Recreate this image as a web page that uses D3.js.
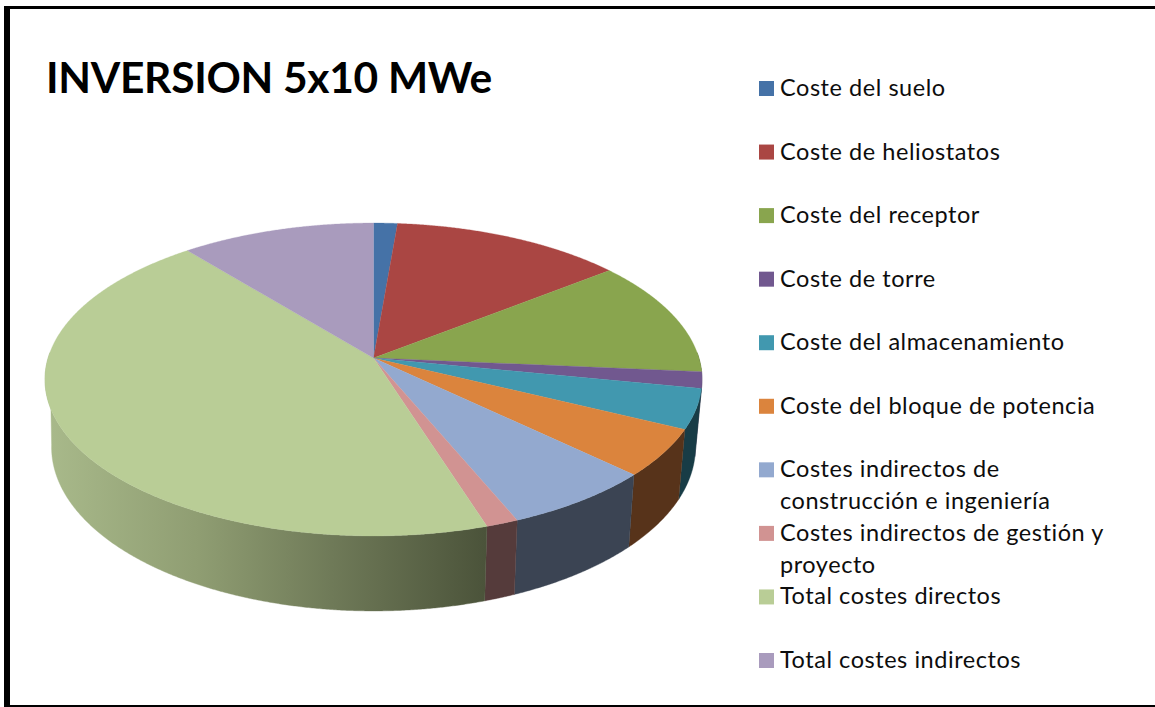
<!DOCTYPE html>
<html><head><meta charset="utf-8">
<script src="https://cdnjs.cloudflare.com/ajax/libs/d3/7.8.5/d3.min.js"></script>
<style>html,body{margin:0;padding:0;background:#fff;overflow:hidden}svg{display:block}text{font-family:Lato,sans-serif;fill:#0d0d0d}</style>
</head><body><svg id="c" width="1155" height="707"></svg>
<script>
const categories = ["Coste del suelo","Coste de heliostatos","Coste del receptor","Coste de torre","Coste del almacenamiento","Coste del bloque de potencia","Costes indirectos de|construcción e ingeniería","Costes indirectos de gestión y|proyecto","Total costes directos","Total costes indirectos"];
const values = [1.34,13.06,12.0,1.7,4.1,4.9,6.6,1.4,44.0,10.9];
const colors = ["#4572a7","#aa4643","#89a54e","#71588f","#4198af","#db843d","#93a9cf","#d19392","#b9cd96","#a99bbd"];
const wallColors = ["#263f5c","#5e2624","#4b5a2b","#3e304f","#183c46","#57331a","#3b4453","#553b3b","url(#gw)","#5d5568"];
const title = "INVERSION 5x10 MWe";

const svg = d3.select("#c");
const W = 1155, H = 707;
svg.append("rect").attr("width",W).attr("height",H).attr("fill","#fff");
// frame
svg.append("rect").attr("x",4).attr("y",6).attr("width",6).attr("height",701).attr("fill","#000");
svg.append("rect").attr("x",4).attr("y",6).attr("width",1151).attr("height",3).attr("fill","#000");
svg.append("rect").attr("x",4).attr("y",705).attr("width",1151).attr("height",2).attr("fill","#000");

// perspective disc projection
const cx=373.5, cy=358, k=-0.1374, A=325.4, B=153.5;
const topRim = t => { const u=Math.sin(t), v=-Math.cos(t), d=1+k*v; return [cx+A*u/d, cy+B*v/d]; };
const botRim = t => { const p=topRim(t); return [cx+0.98*(p[0]-cx), 611+1.047*(p[1]-536)]; };
const pathLine = d3.line();
const rad = d => d*Math.PI/180;
const sweep = (a,b) => b>a ? d3.range(a,b,0.005).concat([b]) : [];

const defs = svg.append("defs");
const gw = defs.append("linearGradient").attr("id","gw").attr("gradientUnits","userSpaceOnUse").attr("x1",45).attr("x2",486).attr("y1",0).attr("y2",0);
[[0,"#a9ba8b"],[0.35,"#8f9d72"],[0.65,"#6f7a58"],[1,"#4b533a"]].forEach(s=>gw.append("stop").attr("offset",s[0]).attr("stop-color",s[1]));

const arcs = d3.pie().sort(null).value(d=>d)(values);
// the upper rim is visible further round than the lower one: the silhouette edge joins the two
const topLo = rad(88), topHi = rad(272), botLo = rad(97), botHi = rad(263);
// side walls
svg.append("g").selectAll("path").data(arcs).join("path")
 .attr("d",d=>{
   const t=sweep(Math.max(d.startAngle,topLo),Math.min(d.endAngle,topHi));
   const b=sweep(Math.max(d.startAngle,botLo),Math.min(d.endAngle,botHi));
   if(!t.length) return null;
   return pathLine(t.map(topRim).concat(b.reverse().map(botRim)))+"Z";
 })
 .attr("fill",(d,i)=>wallColors[i]).attr("stroke",(d,i)=>wallColors[i]).attr("stroke-width",0.4);
// top face
svg.append("g").selectAll("path").data(arcs).join("path")
 .attr("d",d=>pathLine([[cx,cy]].concat(sweep(d.startAngle,d.endAngle).map(topRim)))+"Z")
 .attr("fill",(d,i)=>colors[i]).attr("stroke",(d,i)=>colors[i]).attr("stroke-width",0.3);

// title
svg.append("text").attr("x",46).attr("y",92.5).attr("font-size",42.5).attr("font-weight",700).attr("letter-spacing",-0.3).style("fill","#000").text(title);

// legend
const rowY = d3.scalePoint().domain(d3.range(categories.length)).range([88.5,660.5]);
const lg = svg.append("g").selectAll("g").data(categories).join("g").attr("transform",(d,i)=>`translate(0,${rowY(i)})`);
lg.append("rect").attr("x",759).attr("y",-7.5).attr("width",15).attr("height",15).attr("fill",(d,i)=>colors[i]);
lg.each(function(d){
  d.split("|").forEach((s,j)=>{
    d3.select(this).append("text").attr("x",780).attr("y",7.5+j*32).attr("font-size",23.5).attr("letter-spacing",0.55).text(s);
  });
});
</script></body></html>
